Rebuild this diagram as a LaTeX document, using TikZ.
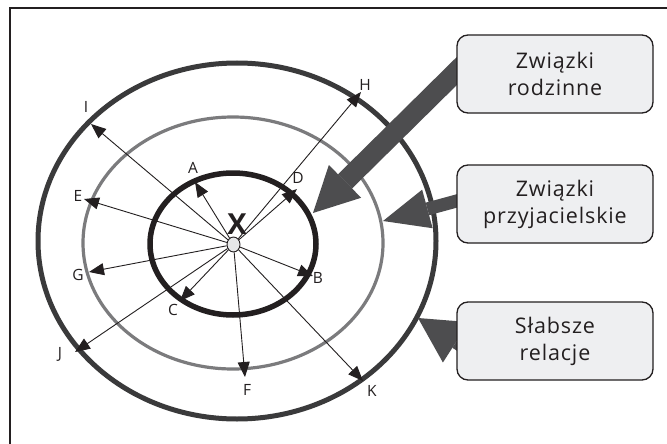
\documentclass[tikz,border=0pt]{standalone}
\usepackage{fontspec}
\setmainfont{Open Sans}
\usetikzlibrary{arrows.meta,shapes.geometric,calc}
\definecolor{ink}{HTML}{231F20}
\definecolor{outerc}{HTML}{3A3A3B}
\definecolor{midc}{HTML}{7B7B7D}
\definecolor{bigc}{HTML}{4D4D4F}
\definecolor{boxfill}{HTML}{EEEFF1}
\definecolor{centfill}{HTML}{E6E7E8}
\tikzset{
  ray/.style={draw=ink, line width=0.9pt, -{Triangle[length=15pt,width=12pt]}},
  lbl/.style={font=\fontsize{15.5}{17}\selectfont, text=ink, inner sep=0pt},
  infobox/.style={draw=ink, line width=1.3pt, fill=boxfill, rounded corners=11pt,
    minimum width=196pt, minimum height=78pt, align=center, text=ink,
    font=\fontsize{21.5}{27}\selectfont\addfontfeatures{LetterSpace=4}},
  bigshaft/.style={draw=bigc, line cap=butt},
  bighead/.style={fill=bigc}
}
\begin{document}
\begin{tikzpicture}[x=1pt,y=-1pt]
\useasboundingbox (0,0) rectangle (667,444);
\fill[white] (0,0) rectangle (667,444);
% frame
\draw[ink, line width=1.4pt] (10,444) -- (10,8) -- (667,8);
% rings
\draw[outerc, line width=5pt] (237,241) ellipse [x radius=199pt, y radius=178pt];
\draw[midc, line width=3.2pt] (233,243) ellipse [x radius=150pt, y radius=126pt];
\draw[ink, line width=5.5pt] (233,244) ellipse [x radius=83pt, y radius=71pt];
% center
\node[ellipse, draw=ink, line width=0.9pt, fill=centfill, minimum width=13pt, minimum height=15pt, inner sep=0pt] (c) at (233.5,244.5) {};
\node[font=\bfseries\fontsize{29}{31}\selectfont, text=ink, inner sep=0pt] (xl) at (237,224) {X};
% ray tips
\coordinate (tA) at (195,182);
\coordinate (tD) at (297,189);
\coordinate (tB) at (313,276);
\coordinate (tC) at (180,301);
\coordinate (tE) at (84,199);
\coordinate (tG) at (89,272);
\coordinate (tF) at (245,377);
\coordinate (tI) at (91,124);
\coordinate (tH) at (361,92);
\coordinate (tJ) at (75,352);
\coordinate (tK) at (363,381);
\foreach \t in {A,D,B,C,E,G,F,I,H,J,K} { \draw[ray] (c) -- (t\t); }
% labels
\node[lbl] (lA) at (193,168) {A};
\node[lbl] (lD) at (298,178) {D};
\node[lbl] (lH) at (365,85) {H};
\node[lbl] (lI) at (86,107) {I};
\node[lbl] (lE) at (78,196) {E};
\node[lbl] (lG) at (78,275) {G};
\node[lbl] (lC) at (173,310) {C};
\node[lbl] (lB) at (318,278) {B};
\node[lbl] (lJ) at (60,354) {J};
\node[lbl] (lF) at (247,390) {F};
\node[lbl] (lK) at (372,391) {K};
% big arrows
\coordinate (s1) at (470,58);  \coordinate (p1) at (313,213);
\coordinate (s2) at (475,196); \coordinate (p2) at (383,221);
\coordinate (s3) at (485,361); \coordinate (p3) at (418,318);
\coordinate (b1) at ($(p1)!45pt!(s1)$);
\coordinate (b2) at ($(p2)!46pt!(s2)$);
\coordinate (b3) at ($(p3)!45pt!(s3)$);
\draw[bigshaft, line width=20pt] (s1) -- (b1);
\fill[bighead] (p1) -- ($(b1)!23pt!90:(p1)$) -- ($(b1)!23pt!-90:(p1)$) -- cycle;
\draw[bigshaft, line width=13pt] (s2) -- (b2);
\fill[bighead] (p2) -- ($(b2)!20pt!90:(p2)$) -- ($(b2)!20pt!-90:(p2)$) -- cycle;
\draw[bigshaft, line width=13pt] (s3) -- (b3);
\fill[bighead] (p3) -- ($(b3)!24pt!90:(p3)$) -- ($(b3)!24pt!-90:(p3)$) -- cycle;
% boxes
\node[infobox] (box1) at (555,74) {Związki\\rodzinne};
\node[infobox] (box2) at (555,204) {Związki\\przyjacielskie};
\node[infobox] (box3) at (555,341) {Słabsze\\relacje};
\end{tikzpicture}
\end{document}
